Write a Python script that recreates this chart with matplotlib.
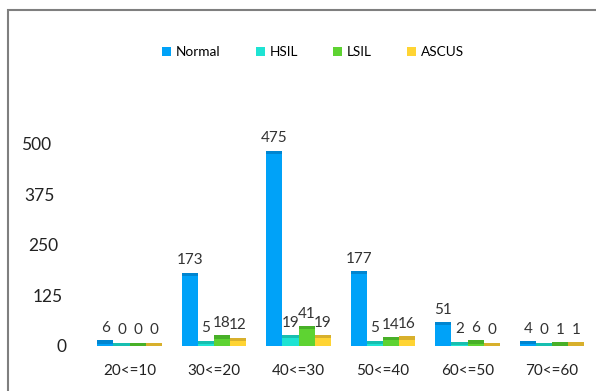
import numpy as np
import matplotlib.pyplot as plt
from matplotlib.patches import Rectangle
import matplotlib.transforms as mtransforms

plt.rcParams['font.family'] = ['Lato', 'DejaVu Sans']

categories = ["20<=10", "30<=20", "40<=30", "50<=40", "60<=50", "70<=60"]
normal = [6, 173, 475, 177, 51, 4]
hsil = [0, 5, 19, 5, 2, 0]
lsil = [0, 18, 41, 14, 6, 1]
ascus = [0, 12, 19, 16, 0, 1]
series_names = ["Normal", "HSIL", "LSIL", "ASCUS"]
colors = ["#00A2F8", "#1EE3D3", "#5ED332", "#FFD433"]
cap_colors = ["#0085D0", "#17BFB0", "#48B028", "#D8B02C"]
yticks = [0, 125, 250, 375, 500]

fig = plt.figure(figsize=(5.96, 3.91), dpi=100)
ax = fig.add_axes([75 / 596, 45 / 391, 521 / 596, 240 / 391])

x = np.arange(len(categories))
width = 0.19
cap = 8
series = [normal, hsil, lsil, ascus]
for i, (vals, name) in enumerate(zip(series, series_names)):
    pos = x + (i - 1.5) * width
    vals = np.array(vals)
    ax.bar(pos, vals, width, bottom=0, color=colors[i], label=name, linewidth=0)
    ax.bar(pos, cap, width, bottom=vals, color=cap_colors[i], linewidth=0)
    for px, v in zip(pos, vals):
        ax.annotate(str(v), (px, v + cap), xytext=(0, 4), textcoords="offset points",
                    ha="center", va="bottom", fontsize=11, color="#333333")

ax.set_xlim(-0.645, 5.52)
ax.set_ylim(0, 594)
ax.set_yticks(yticks)
ax.set_yticklabels([str(t) for t in yticks], fontsize=12.5, color="#222222")
ax.set_xticks(x)
ax.set_xticklabels(categories, fontsize=11, color="#222222")
ax.tick_params(length=0)
ax.tick_params(axis="x", pad=13)
ax.tick_params(axis="y", pad=6)
for s in ax.spines.values():
    s.set_visible(False)

# perspective-like shift of the y tick labels
shifts = [0, -4, -8, -12, -16]
for lab, dx in zip(ax.get_yticklabels(), shifts):
    lab.set_transform(lab.get_transform() + mtransforms.ScaledTranslation(dx / 100, 0, fig.dpi_scale_trans))

ax.legend(loc="center", bbox_to_anchor=(313 / 596, 339 / 391), bbox_transform=fig.transFigure,
          ncol=4, frameon=False, fontsize=9.8, handlelength=0.65, handleheight=0.65,
          handletextpad=0.35, columnspacing=2.6)

fig.add_artist(Rectangle((8 / 596, -0.1), 1.2, (381 / 391) + 0.1, transform=fig.transFigure,
                         fill=False, edgecolor="#7F7F7F", linewidth=1.5))

fig.savefig("out.png", dpi=100)
